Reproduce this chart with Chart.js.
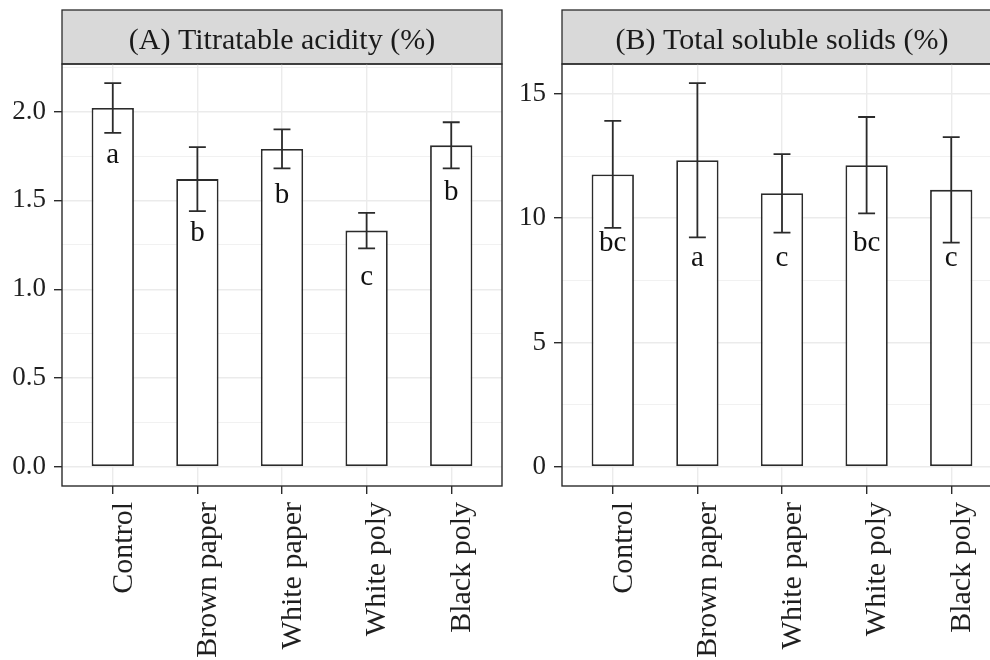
<!DOCTYPE html>
<html>
<head>
<meta charset="utf-8">
<script src="https://cdn.jsdelivr.net/npm/chart.js@4.4.1/dist/chart.umd.min.js"></script>
<style>
html,body{margin:0;padding:0;background:#ffffff;width:990px;height:660px;overflow:hidden;position:relative;}
canvas{position:absolute;top:0;}
#cA{left:0;}
#cB{left:500px;}
</style>
</head>
<body>
<canvas id="cA" width="504" height="660"></canvas>
<canvas id="cB" width="504" height="660"></canvas>
<script>
// ---- data ----
const categories = ['Control', 'Brown paper', 'White paper', 'White poly', 'Black poly'];

const acidityTitle = '(A) Titratable acidity (%)';
const acidityMean = [2.02, 1.62, 1.79, 1.33, 1.81];
const aciditySd = [0.14, 0.18, 0.11, 0.10, 0.13];
const acidityLetters = ['a', 'b', 'b', 'c', 'b'];
const acidityLetterY = [1.71, 1.27, 1.485, 1.025, 1.50];
const acidityMajorTicks = [0, 0.5, 1.0, 1.5, 2.0];
const acidityMinorTicks = [0.25, 0.75, 1.25, 1.75, 2.25];

const tssTitle = '(B) Total soluble solids (%)';
const tssMean = [11.76, 12.33, 11.00, 12.13, 11.14];
const tssSd = [2.15, 3.10, 1.58, 1.94, 2.12];
const tssLetters = ['bc', 'a', 'c', 'bc', 'c'];
const tssLetterY = [8.67, 8.06, 8.06, 8.67, 8.06];
const tssMajorTicks = [0, 5, 10, 15];
const tssMinorTicks = [2.5, 7.5, 12.5];

// ---- style ----
const FONT = '"Liberation Serif", "Times New Roman", serif';
const INK = '#2b2b2b';
const TXT = '#1f1f1f';
const GRID = '#EBEBEB';
Chart.defaults.font.family = FONT;
Chart.defaults.color = TXT;

function makePanel(canvasId, title, means, sds, letters, letterY, majors, minors, decimals) {
  const top = Math.max(...means.map((m, i) => m + sds[i]));
  const pad = top * 0.05;
  const yMin = -pad, yMax = top + pad;
  const allTicks = majors.concat(minors).sort((a, b) => a - b);
  const isMajor = v => majors.some(m => Math.abs(m - v) < 1e-9);

  const panelPlugin = {
    id: 'panel_' + canvasId,
    beforeDraw(chart) {
      const {ctx, chartArea: a} = chart;
      ctx.save();
      const sTop = 10;
      ctx.fillStyle = '#D9D9D9';
      ctx.fillRect(a.left, sTop, a.right - a.left, a.top - sTop);
      ctx.strokeStyle = INK;
      ctx.lineWidth = 1.3;
      ctx.strokeRect(a.left, sTop, a.right - a.left, a.top - sTop);
      ctx.fillStyle = '#1A1A1A';
      ctx.font = '30px ' + FONT;
      ctx.textAlign = 'center';
      ctx.textBaseline = 'alphabetic';
      ctx.fillText(title, (a.left + a.right) / 2, a.top - 15.5);
      ctx.restore();
    },
    afterDatasetsDraw(chart) {
      const {ctx, chartArea: a} = chart;
      const xs = chart.scales.x, ys = chart.scales.y;
      ctx.save();
      ctx.strokeStyle = INK;
      ctx.lineWidth = 1.8;
      means.forEach((m, i) => {
        const xc = xs.getPixelForValue(i);
        const xl = xs.getPixelForValue(i - 0.1);
        const xr = xs.getPixelForValue(i + 0.1);
        const yt = ys.getPixelForValue(m + sds[i]);
        const yb = ys.getPixelForValue(m - sds[i]);
        ctx.beginPath();
        ctx.moveTo(xc, yt); ctx.lineTo(xc, yb);
        ctx.moveTo(xl, yt); ctx.lineTo(xr, yt);
        ctx.moveTo(xl, yb); ctx.lineTo(xr, yb);
        ctx.stroke();
      });
      ctx.fillStyle = '#111111';
      ctx.font = '29px ' + FONT;
      ctx.textAlign = 'center';
      ctx.textBaseline = 'alphabetic';
      letters.forEach((t, i) => {
        ctx.fillText(t, xs.getPixelForValue(i), ys.getPixelForValue(letterY[i]));
      });
      ctx.strokeStyle = INK;
      ctx.lineWidth = 1.4;
      ctx.strokeRect(a.left, a.top, a.right - a.left, a.bottom - a.top);
      ctx.restore();
    }
  };

  return new Chart(document.getElementById(canvasId), {
    type: 'bar',
    data: {
      datasets: [{
        data: means.map((m, i) => ({x: i, y: m})),
        backgroundColor: '#FFFFFF',
        borderColor: INK,
        borderWidth: 1.8,
        borderSkipped: false,
        categoryPercentage: 1.0,
        barPercentage: 0.5
      }]
    },
    options: {
      responsive: false,
      animation: false,
      devicePixelRatio: 1,
      layout: {padding: {top: 64, right: 2, bottom: 0, left: 0}},
      plugins: {legend: {display: false}, tooltip: {enabled: false}, title: {display: false}},
      scales: {
        x: {
          type: 'linear',
          offset: false,
          min: -0.6,
          max: 4.6,
          afterBuildTicks: s => { s.ticks = categories.map((c, i) => ({value: i})); },
          afterFit: s => { s.height = 174; },
          border: {display: false},
          grid: {offset: false, color: GRID, lineWidth: 1.4, tickLength: 8, tickColor: INK, tickWidth: 1.4},
          ticks: {
            callback: v => categories[v],
            minRotation: 90, maxRotation: 90,
            autoSkip: false,
            padding: 8,
            labelOffset: 11,
            color: TXT,
            font: {size: 30, family: FONT}
          }
        },
        y: {
          type: 'linear',
          min: yMin,
          max: yMax,
          afterBuildTicks: s => { s.ticks = allTicks.map(v => ({value: v})); },
          afterFit: s => { s.width = 62; },
          border: {display: false},
          grid: {
            color: GRID,
            lineWidth: c => isMajor(c.tick.value) ? 1.4 : 0.7,
            tickLength: 8,
            tickColor: c => isMajor(c.tick.value) ? INK : 'rgba(0,0,0,0)',
            tickWidth: 1.4
          },
          ticks: {
            callback: v => isMajor(v) ? v.toFixed(decimals) : '',
            padding: 8,
            color: TXT,
            font: {size: 27, family: FONT}
          }
        }
      }
    },
    plugins: [panelPlugin]
  });
}

makePanel('cA', acidityTitle, acidityMean, aciditySd, acidityLetters, acidityLetterY, acidityMajorTicks, acidityMinorTicks, 1);
makePanel('cB', tssTitle, tssMean, tssSd, tssLetters, tssLetterY, tssMajorTicks, tssMinorTicks, 0);
</script>
</body>
</html>
